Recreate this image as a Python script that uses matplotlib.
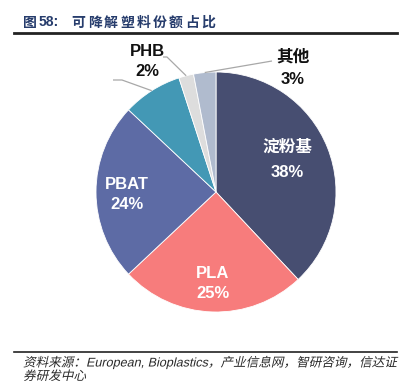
import matplotlib
matplotlib.use('Agg')
import numpy as np
import matplotlib.pyplot as plt
from matplotlib.textpath import TextPath
from matplotlib.patches import PathPatch
from matplotlib.font_manager import FontProperties
from matplotlib.transforms import Affine2D

plt.rcParams['font.family'] = ['Liberation Sans', 'Noto Sans CJK SC', 'DejaVu Sans']

# shares of degradable plastics (%), clockwise from 12 o'clock
names = ['淀粉基', 'PLA', 'PBAT', 'PBS', 'PHB', '其他']
shares = [38, 25, 24, 8, 2, 3]
colors = ['#474e71', '#f77c7c', '#5d6ba5', '#4398b5', '#dddddd', '#b0bbce']

title_num = '图'
title_id = '58:'
title_txt = '可降解塑料份额占比'
source_lines = ['资料来源：European, Bioplastics，产业信息网，智研咨询，信达证',
                '券研发中心']

W, H = 410, 383
fig = plt.figure(figsize=(W / 100, H / 100), dpi=100)
ax = fig.add_axes([0, 0, 1, 1])

cx, cy, r = 216, H - 192, 120
wedges, _ = ax.pie(shares, colors=colors, startangle=90, counterclock=False,
                   center=(cx, cy), radius=r,
                   wedgeprops=dict(linewidth=0.6, edgecolor='white'))
ax.set_xlim(0, W)
ax.set_ylim(0, H)
ax.set_aspect('equal')
ax.axis('off')

def mid_point(i, rad):
    a = np.deg2rad(wedges[i].theta1 + wedges[i].theta2) / 2
    return cx + rad * np.cos(a), cy + rad * np.sin(a)

lbl = dict(ha='center', va='center', fontsize=12, fontweight='bold')
# inside labels
inside = {0: (287, 147, 173), 1: (213, 274, 294), 2: (127, 185, 205)}
for i, (x, y1, y2) in inside.items():
    ax.text(x, H - y1, names[i], color='white', **lbl)
    ax.text(x, H - y2, f'{shares[i]}%', color='white', **lbl)

# outside labels with leader lines
line_kw = dict(color='#a8a8a8', lw=0.9, solid_capstyle='butt')
x0, y0 = mid_point(3, r)
ax.plot([x0, 122, 113], [y0, H - 80, H - 80], **line_kw)

x0, y0 = mid_point(4, r)
ax.plot([x0, 167, 163], [y0, H - 57, H - 57], **line_kw)
ax.text(147, H - 51, names[4], color='#111111', **lbl)
ax.text(147, H - 72, f'{shares[4]}%', color='#111111', **lbl)

x0, y0 = mid_point(5, r)
ax.plot([x0, 272], [y0, H - 61], **line_kw)
ax.text(293, H - 57, names[5], color='#111111', **lbl)
ax.text(293, H - 80, f'{shares[5]}%', color='#111111', **lbl)

# title, spaced out character by character
tcol = '#263c6c'
tkw = dict(fontsize=10, fontweight='bold', color=tcol, va='center',
           family=['Noto Sans CJK SC', 'DejaVu Sans'])
ty = H - 22.5
ax.text(29.5, ty, title_num, ha='center', **tkw)
ax.text(39, ty, title_id, ha='left', fontsize=10, fontweight='bold', color=tcol,
        va='center', family='Liberation Sans')
for k, ch in enumerate(title_txt):
    ax.text(78.5 + k * 16.2, ty, ch, ha='center', **tkw)

ax.plot([14, 397], [H - 32.5, H - 32.5], color='#222222', lw=2)
ax.plot([14, 397], [H - 352, H - 352], color='#222222', lw=1.2)

# slanted source note
fp = FontProperties(family=['Liberation Sans', 'Noto Sans CJK SC'])
for line, base in zip(source_lines, [366.5, 380]):
    tp = TextPath((0, 0), line, size=12.6, prop=fp)
    tr = Affine2D().skew_deg(13, 0).translate(23, H - base) + ax.transData
    ax.add_patch(PathPatch(tp, transform=tr, facecolor='#2a2a2a', lw=0))

fig.savefig('out.png', dpi=100)
